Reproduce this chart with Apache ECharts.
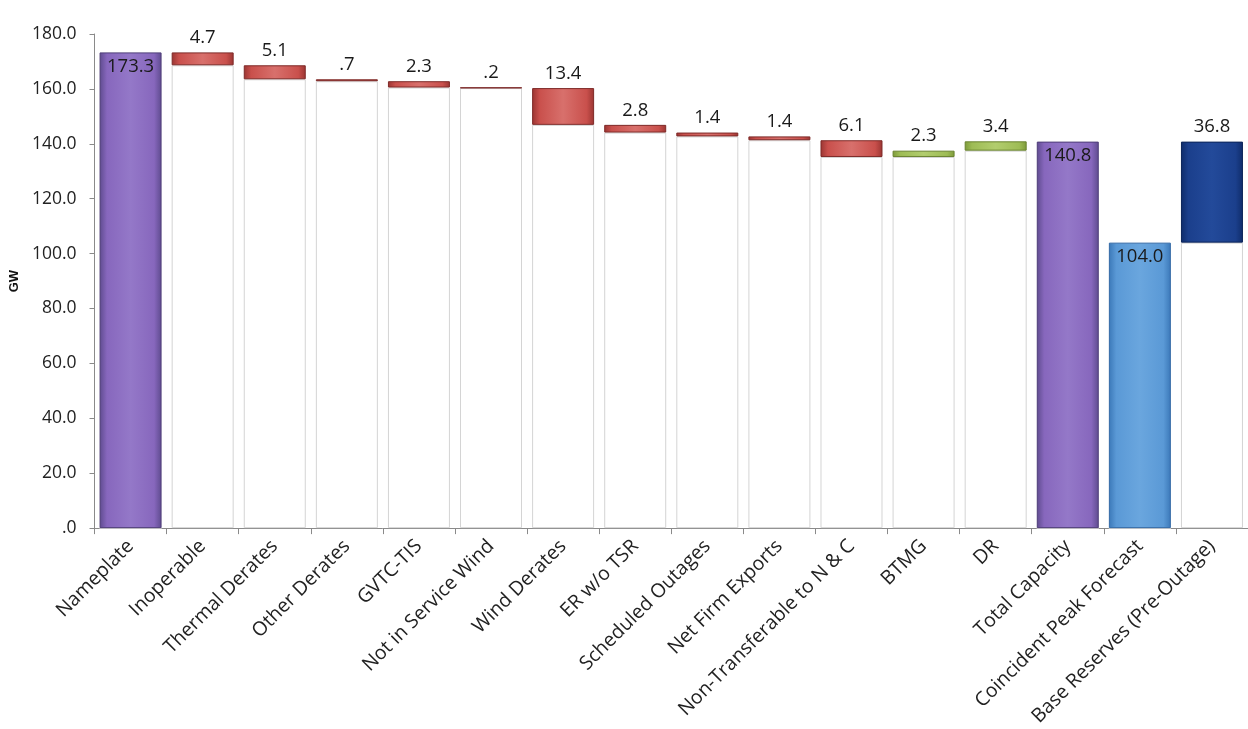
<!DOCTYPE html>
<html><head><meta charset="utf-8">
<script src="https://cdn.jsdelivr.net/npm/echarts@6/dist/echarts.min.js"></script>
<style>html,body{margin:0;padding:0;background:#fff}#c{width:1248px;height:729px}</style>
</head><body><div id="c"></div>
<script>
const categories = ['Nameplate','Inoperable','Thermal Derates','Other Derates','GVTC-TIS','Not in Service Wind','Wind Derates','ER w/o TSR','Scheduled Outages','Net Firm Exports','Non-Transferable to N & C','BTMG','DR','Total Capacity','Coincident Peak Forecast','Base Reserves (Pre-Outage)'];
const values = [173.3, 4.7, 5.1, 0.7, 2.3, 0.2, 13.4, 2.8, 1.4, 1.4, 6.1, 2.3, 3.4, 140.8, 104.0, 36.8];
const kinds = ['total','dec','dec','dec','dec','dec','dec','dec','dec','dec','dec','inc','inc','total','total','inc'];
const yTicks = [0, 20, 40, 60, 80, 100, 120, 140, 160, 180];

// compute waterfall bases
const bases = [];
let running = 0;
values.forEach((v, i) => {
  const k = kinds[i];
  if (k === 'total') { bases.push(0); running = v; }
  else if (k === 'dec') { running -= v; bases.push(+running.toFixed(2)); }
  else { bases.push(+running.toFixed(2)); running += v; }
});

function grad(edge, mid, light) {
  return new echarts.graphic.LinearGradient(0, 0, 1, 0, [
    {offset: 0, color: edge}, {offset: 0.12, color: mid}, {offset: 0.5, color: light},
    {offset: 0.88, color: mid}, {offset: 1, color: edge}
  ]);
}
const palette = {
  purple: {c: grad('#5e4b8e', '#8767bd', '#9478c8'), b: '#4e3d78'},
  red: {c: grad('#9a3532', '#c9504c', '#d8706c'), b: '#7e2a28'},
  green: {c: grad('#7d9a3a', '#9ebc55', '#b2cd6e'), b: '#6a8330'},
  blue: {c: grad('#3b78b8', '#5a99d6', '#6aa6de'), b: '#336aa6'},
  navy: {c: grad('#0f2c6a', '#1b3f8c', '#234a9a'), b: '#0c2458'}
};
function colorKey(i) {
  if (i === 0 || i === 13) return 'purple';
  if (i === 14) return 'blue';
  if (i === 15) return 'navy';
  return kinds[i] === 'inc' ? 'green' : 'red';
}
function fmt(v) { return v.toFixed(1).replace(/^0/, ''); }

const valueData = values.map((v, i) => {
  const p = palette[colorKey(i)];
  const inside = kinds[i] === 'total';
  return {
    value: v,
    itemStyle: {color: p.c, borderColor: p.b, borderWidth: 1},
    label: {position: inside ? 'insideTop' : 'top', distance: 5}
  };
});

const chart = echarts.init(document.getElementById('c'), null, {renderer: 'canvas'});
chart.setOption({
  backgroundColor: '#ffffff',
  animation: false,
  grid: {left: 93, top: 34, bottom: 199, width: 1158, containLabel: false},
  xAxis: {
    type: 'category', data: categories,
    axisLine: {lineStyle: {color: '#8a8a8a'}},
    axisTick: {show: true, alignWithLabel: false, length: 6, lineStyle: {color: '#8a8a8a'}},
    axisLabel: {rotate: 45, interval: 0, fontSize: 19.5, color: '#222', margin: 15, fontFamily: 'Open Sans'}
  },
  yAxis: {
    type: 'value', min: 0, max: 180, interval: 20,
    name: 'GW', nameLocation: 'middle', nameGap: 72, nameRotate: 90,
    nameTextStyle: {fontSize: 13, fontWeight: 'bold', color: '#111', fontFamily: 'Liberation Sans'},
    axisLine: {show: true, lineStyle: {color: '#8a8a8a'}},
    axisTick: {show: true, length: 5, lineStyle: {color: '#8a8a8a'}},
    splitLine: {show: false},
    axisLabel: {fontSize: 17.5, color: '#222', margin: 18, fontFamily: 'Open Sans',
      formatter: v => yTicks.includes(v) ? fmt(v) : ''}
  },
  series: [
    {
      type: 'bar', stack: 'w', data: bases, barCategoryGap: '14%',
      itemStyle: {color: '#ffffff', borderColor: '#d4d4d4', borderWidth: 1},
      silent: true, z: 1
    },
    {
      type: 'bar', stack: 'w', data: valueData, barCategoryGap: '14%',
      label: {show: true, fontSize: 18.5, color: '#1a1a1a', fontFamily: 'Open Sans',
        formatter: p => fmt(p.value)},
      z: 2
    }
  ]
});
</script></body></html>
